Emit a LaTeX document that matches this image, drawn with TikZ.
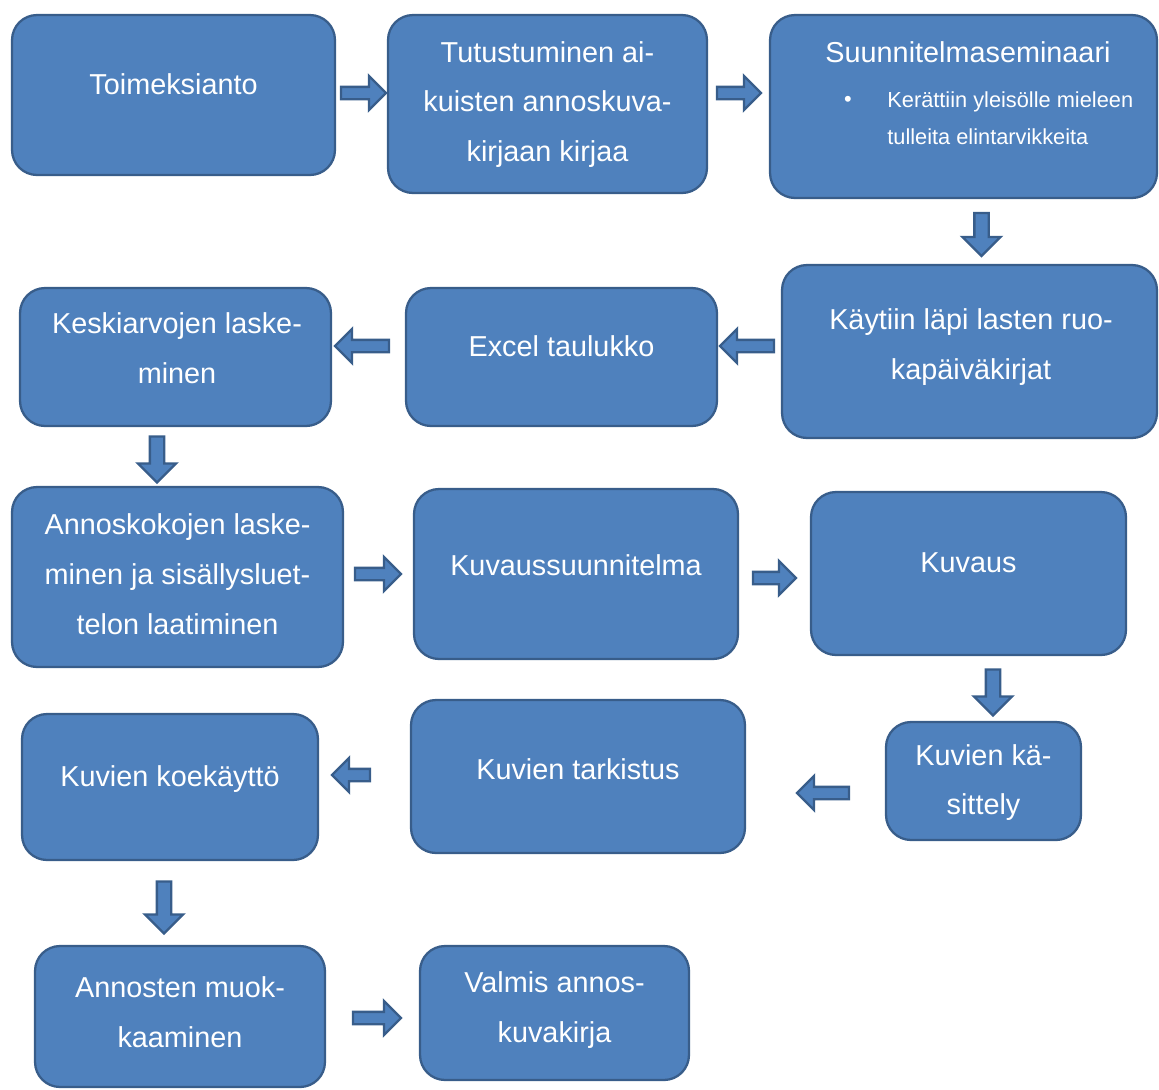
\documentclass[tikz,border=0pt]{standalone}
\usepackage{fontspec}
\setmainfont{Liberation Sans}
\usetikzlibrary{shapes.arrows}
\definecolor{boxblue}{RGB}{79,129,189}
\definecolor{boxline}{RGB}{56,93,138}

\begin{document}
\begin{tikzpicture}[x=0.02cm, y=-0.02cm,
    box/.style={draw=boxline, fill=boxblue, line width=1.3pt, rounded corners=0.5cm, inner sep=0pt},
    txt/.style={text=white, align=center, inner sep=0pt, font=\fontsize{16.4}{28.4}\selectfont},
    small/.style={text=white, align=left, inner sep=0pt, font=\fontsize{12.4}{21}\selectfont},
    blockarrow/.style={single arrow, draw=boxline, fill=boxblue, line width=1.3pt,
        inner sep=0.1cm, single arrow head extend=0.22cm},
    downarrow/.style={blockarrow, shape border rotate=270, inner sep=0.12cm, single arrow head extend=0.24cm}]
    \useasboundingbox (0,0) rectangle (1159,1089);
    % boxes
    \node[box, minimum width=6.46cm, minimum height=3.2cm] (toim) at (173.5,95) {};
    \node[box, minimum width=6.38cm, minimum height=3.56cm] (tutu) at (547.5,104) {};
    \node[box, minimum width=7.74cm, minimum height=3.66cm] (semi) at (963.5,106.5) {};
    \node[box, minimum width=7.5cm, minimum height=3.46cm] (paiv) at (969.5,351.5) {};
    \node[box, minimum width=6.22cm, minimum height=2.76cm] (excel) at (561.5,357) {};
    \node[box, minimum width=6.22cm, minimum height=2.76cm] (kesk) at (175.5,357) {};
    \node[box, minimum width=6.62cm, minimum height=3.6cm] (anko) at (177.5,577) {};
    \node[box, minimum width=6.48cm, minimum height=3.4cm] (suun) at (576,574) {};
    \node[box, minimum width=6.3cm, minimum height=3.26cm] (kuvaus) at (968.5,573.5) {};
    \node[box, minimum width=3.9cm, minimum height=2.36cm] (kasi) at (983.5,781) {};
    \node[box, minimum width=6.68cm, minimum height=3.06cm] (tark) at (578,776.5) {};
    \node[box, minimum width=5.92cm, minimum height=2.92cm] (koe) at (170,787) {};
    \node[box, minimum width=5.8cm, minimum height=2.82cm] (muok) at (180,1016.5) {};
    \node[box, minimum width=5.38cm, minimum height=2.68cm] (valm) at (554.5,1013) {};
    % texts
    \node[txt] (toimtxt) at (173.5,84) {Toimeksianto};
    \node[txt] (tututxt) at (547.5,104.5) {Tutustuminen ai-\\kuisten annoskuva-\\kirjaan kirjaa};
    \node[txt] (semitxt) at (968,52) {Suunnitelmaseminaari};
    \node[small] (bullet) at (848,101) {\textbullet};
    \node[small, anchor=base west] (semiitem) at (887,144) {Kerättiin yleisölle mieleen\\tulleita elintarvikkeita};
    \node[txt] (paivtxt) at (971,347) {Käytiin läpi lasten ruo-\\kapäiväkirjat};
    \node[txt] (exceltxt) at (561.5,346) {Excel taulukko};
    \node[txt] (kesktxt) at (177,348.5) {Keskiarvojen laske-\\minen};
    \node[txt] (ankotxt) at (177.5,574) {Annoskokojen laske-\\minen ja sisällysluet-\\telon laatiminen};
    \node[txt] (suuntxt) at (576,565) {Kuvaussuunnitelma};
    \node[txt] (kuvaustxt) at (968.5,563) {Kuvaus};
    \node[txt] (kasitxt) at (983.5,782.5) {Kuvien kä-\\sittely};
    \node[txt] (tarktxt) at (578,769) {Kuvien tarkistus};
    \node[txt] (koetxt) at (170,779) {Kuvien koekäyttö};
    \node[txt] (muoktxt) at (180,1012.5) {Annosten muok-\\kaaminen};
    \node[txt] (valmtxt) at (554.5,1010) {Valmis annos-\\kuvakirja};
    % block arrows
    \node[blockarrow, minimum height=0.9cm] (a1) at (360.5,93) {};
    \node[blockarrow, minimum height=0.88cm] (a2) at (736,93) {};
    \node[downarrow, minimum height=0.86cm] (a3) at (981.5,231) {};
    \node[blockarrow, shape border rotate=180, minimum height=1.08cm] (a4) at (750,346) {};
    \node[blockarrow, shape border rotate=180, minimum height=1.08cm] (a5) at (365,346) {};
    \node[downarrow, minimum height=0.92cm] (a6) at (157,456) {};
    \node[blockarrow, minimum height=0.92cm] (a7) at (375,574) {};
    \node[blockarrow, minimum height=0.86cm] (a8) at (771.5,578) {};
    \node[downarrow, minimum height=0.92cm] (a9) at (993,689) {};
    \node[blockarrow, shape border rotate=180, minimum height=1.04cm] (a10) at (826,793) {};
    \node[blockarrow, shape border rotate=180, minimum height=0.76cm] (a11) at (354,775) {};
    \node[downarrow, minimum height=1.04cm] (a12) at (164,904) {};
    \node[blockarrow, minimum height=0.96cm] (a13) at (374,1018) {};
\end{tikzpicture}
\end{document}
